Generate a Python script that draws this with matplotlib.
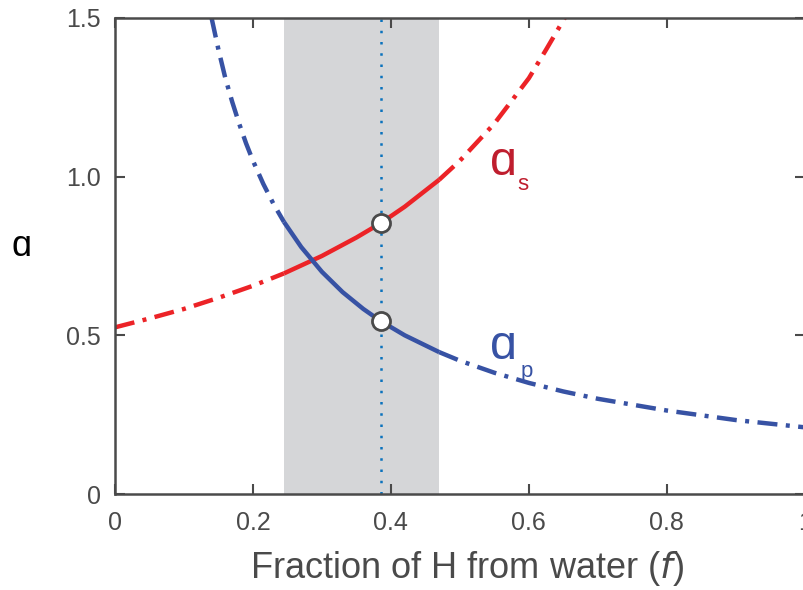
"""Isotope fractionation factors vs fraction of H from water"""

import numpy as np
import matplotlib.pyplot as plt

# values
f_s = [0, 0.05, 0.1, 0.15, 0.2, 0.245, 0.3, 0.35, 0.385, 0.42, 0.47,
       0.5, 0.55, 0.6, 0.625, 0.652]
alpha_s = [0.525, 0.553, 0.583, 0.618, 0.656, 0.695, 0.75, 0.808, 0.853,
           0.905, 0.99, 1.05, 1.167, 1.31, 1.40, 1.5]

f_p = [0.14, 0.15, 0.16, 0.17, 0.18, 0.19, 0.2, 0.215, 0.23, 0.245, 0.27,
       0.3, 0.33, 0.36, 0.385, 0.42, 0.47, 0.5, 0.55, 0.6, 0.65, 0.7,
       0.8, 0.9, 1.0]
alpha_p = [1.5, 1.4, 1.31, 1.235, 1.167, 1.105, 1.05, 0.977, 0.913, 0.857,
           0.778, 0.70, 0.636, 0.583, 0.545, 0.50, 0.447, 0.42, 0.382, 0.35,
           0.323, 0.30, 0.263, 0.233, 0.21]

band = (0.245, 0.47)   # shaded range of f
f_obs = 0.385          # dotted line / open circles
obs_s = 0.853
obs_p = 0.545

red = '#ec2327'
blue = '#3752a4'
grey = '#4a4a4a'

plt.rcParams['font.family'] = ['Liberation Sans', 'DejaVu Sans']

fig = plt.figure(figsize=(8.04, 5.90), dpi=100)
ax = fig.add_axes([0.143, 0.1627, 0.858, 0.807])

ax.axvspan(band[0], band[1], color='#d5d6d8', lw=0, zorder=0)
ax.axvline(f_obs, color='#0a72bd', ls=(0, (1, 3.5)), lw=1.8, zorder=1)

dashdot = (4.5, 1.9, 0.9, 1.9)
for f, a, c in [(f_s, alpha_s, red), (f_p, alpha_p, blue)]:
    f = np.array(f)
    a = np.array(a)
    lo = f <= band[0]
    mid = (f >= band[0]) & (f <= band[1])
    hi = f >= band[1]
    ax.plot(f[lo], a[lo], color=c, lw=3.2, dashes=dashdot, zorder=2)
    ax.plot(f[mid], a[mid], color=c, lw=3.2, solid_capstyle='butt', zorder=2)
    ax.plot(f[hi], a[hi], color=c, lw=3.2, dashes=dashdot, zorder=2)

ax.plot([f_obs, f_obs], [obs_s, obs_p], ls='none', marker='o', ms=13,
        mfc='white', mec=grey, mew=2, zorder=3)

# curve labels
ax.text(0.543, 1.043, '\u0251', color='#bf1e2e', fontsize=35,
        ha='left', va='center')
ax.text(0.584, 0.975, 's', color='#bf1e2e', fontsize=16,
        ha='left', va='center')
ax.text(0.543, 0.465, '\u0251', color=blue, fontsize=35,
        ha='left', va='center')
ax.text(0.588, 0.385, 'p', color=blue, fontsize=16,
        ha='left', va='center')

ax.set_xlim(0, 1)
ax.set_ylim(0, 1.5)
ax.set_xticks([0, 0.2, 0.4, 0.6, 0.8, 1])
ax.set_xticklabels(['0', '0.2', '0.4', '0.6', '0.8', '1'])
ax.set_yticks([0, 0.5, 1.0, 1.5])
ax.set_yticklabels(['0', '0.5', '1.0', '1.5'])
ax.tick_params(direction='in', length=7, width=1.5, colors=grey,
               labelsize=18, top=True, right=True)
ax.tick_params(axis='x', pad=12)
ax.tick_params(axis='y', pad=10)
for s in ax.spines.values():
    s.set_color(grey)
    s.set_linewidth(1.8)

ax.set_xlabel('Fraction of H from water ($\\mathit{f}$)', fontsize=26,
              color=grey, va='center')
ax.xaxis.set_label_coords(0.51, -0.157)
ax.set_ylabel('\u0251', fontsize=26, color='black', rotation=0,
              va='center', ha='center')
ax.yaxis.set_label_coords(-0.135, 0.52)

fig.savefig('out.png', dpi=100)
